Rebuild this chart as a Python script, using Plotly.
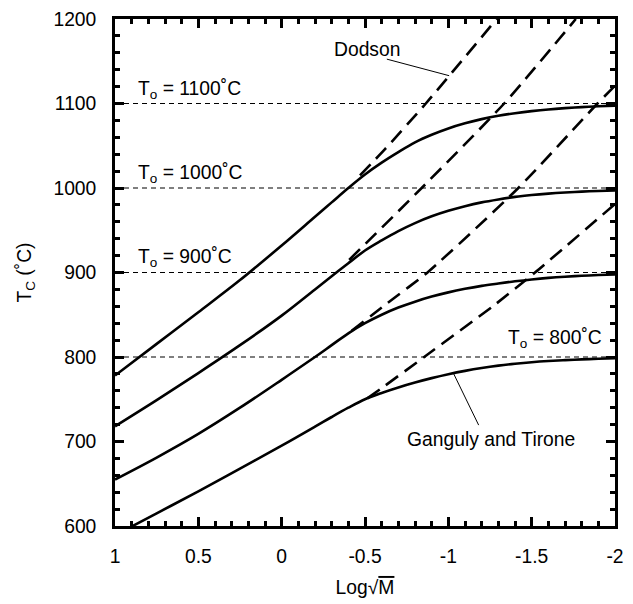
import plotly.graph_objects as go

# Initial temperatures (degC) for each cooling history
t0_levels = [1100, 1000, 900, 800]

# Ganguly and Tirone closure temperatures on a common Log sqrt(M) grid
gt_x = [1.0, 0.75, 0.5, 0.25, 0.0, -0.2, -0.3, -0.4, -0.5, -0.6, -0.7, -0.8,
        -0.9, -1.0, -1.1, -1.2, -1.3, -1.4, -1.5, -1.6, -1.7, -1.8, -1.9, -2.0]
gt_1100 = [778, 815.5, 853, 891, 932, 966, 983, 1000, 1016, 1030, 1042.5, 1054,
           1063, 1070.5, 1076.5, 1081.5, 1085.5, 1088.5, 1091, 1093, 1094.5, 1095.7, 1096.7, 1097.5]
gt_1000 = [718, 749, 781, 814, 849, 880, 895.5, 911, 926, 938, 949, 958.5,
           966.5, 973, 978.5, 983, 986.5, 989.5, 991.7, 993.4, 994.7, 995.7, 996.5, 997.2]
gt_900 = [655, 681, 709, 740, 773, 800, 814, 828, 840, 850, 858.5, 865.5,
          871.5, 876.5, 880.7, 884.2, 887, 889.6, 891.8, 893.6, 895, 896.1, 897, 897.7]
gt_800 = [589, 615, 641, 668, 695, 717.5, 729, 740, 750, 757.5, 764, 769.8,
          775, 779.6, 783.6, 787, 789.8, 792, 793.8, 795.2, 796.3, 797.2, 797.9, 798.5]

# Dodson closure temperatures (only where they depart from Ganguly and Tirone)
dod_1100_x = [-0.47, -0.62, -0.865, -1.29]
dod_1100_y = [1015, 1046, 1100, 1200]
dod_1000_x = [-0.405, -0.84, -1.335, -1.765]
dod_1000_y = [915, 1000, 1100, 1200]
dod_900_x = [-0.42, -0.63, -0.88, -1.42, -1.895, -2.0]
dod_900_y = [831, 863, 901, 1000, 1100, 1121]
dod_800_x = [-0.514, -0.592, -0.855, -1.28, -1.52, -2.0]
dod_800_y = [751, 762, 800, 862, 900, 981]

x_tickvals = [1, 0.5, 0, -0.5, -1, -1.5, -2]
x_ticktext = ["1", "0.5", "0", "-0.5", "-1", "-1.5", "-2"]
y_tickvals = [600, 700, 800, 900, 1000, 1100, 1200]

FONT = "Arial, Liberation Sans, sans-serif"
FS = 19.3

fig = go.Figure()

# horizontal reference lines at each initial temperature
for t0 in t0_levels:
    fig.add_trace(go.Scatter(
        x=[x_tickvals[0], x_tickvals[-1]], y=[t0, t0], mode="lines",
        line=dict(color="black", width=1.2, dash="5px,4px"),
        hoverinfo="skip", showlegend=False))

for ys in (gt_1100, gt_1000, gt_900, gt_800):
    fig.add_trace(go.Scatter(
        x=gt_x, y=ys, mode="lines",
        line=dict(color="black", width=2.6, shape="spline", smoothing=1.0),
        showlegend=False))

for xs, ys in ((dod_1100_x, dod_1100_y), (dod_1000_x, dod_1000_y),
               (dod_900_x, dod_900_y), (dod_800_x, dod_800_y)):
    fig.add_trace(go.Scatter(
        x=xs, y=ys, mode="lines",
        line=dict(color="black", width=2.6, dash="15px,8px", shape="spline", smoothing=0.6),
        showlegend=False))

# labels for the initial temperatures
label_pos = {1100: (0.876, 1116, "left"), 1000: (0.876, 1016.5, "left"),
             900: (0.876, 917, "left"), 800: (-1.936, 821, "right")}
for t0 in t0_levels:
    lx, ly, anc = label_pos[t0]
    fig.add_annotation(x=lx, y=ly, text=f"T<sub>o</sub> = {t0}˚C", showarrow=False,
                       xanchor=anc, yanchor="middle", font=dict(family=FONT, size=FS, color="black"))

fig.add_annotation(x=-0.51, y=1163.4, text="Dodson", showarrow=False,
                   xanchor="center", yanchor="middle", font=dict(family=FONT, size=FS, color="black"))
fig.add_annotation(x=-1.255, y=701.8, text="Ganguly and Tirone", showarrow=False,
                   xanchor="center", yanchor="middle", font=dict(family=FONT, size=FS, color="black"))

# leader lines from the labels to their curves
fig.add_shape(type="line", x0=-0.631, y0=1152.5, x1=-1.005, y1=1132.9,
              line=dict(color="black", width=1))
fig.add_shape(type="line", x0=-1.182, y0=719.4, x1=-1.03, y1=781.0,
              line=dict(color="black", width=1))

axis_common = dict(
    showgrid=False, zeroline=False, showline=True, linecolor="black", linewidth=2.6,
    mirror="ticks", ticks="inside", ticklen=9, tickwidth=2.5, tickcolor="black",
    tickfont=dict(family=FONT, size=FS, color="black"),
)

fig.update_xaxes(
    range=[1, -2], tickvals=x_tickvals, ticktext=x_ticktext,
    minor=dict(dtick=0.1, ticks="inside", ticklen=5, tickwidth=2.5, tickcolor="black", showgrid=False),
    title=dict(text="Log√<span style='text-decoration:overline'>M</span>",
               font=dict(family=FONT, size=FS, color="black"), standoff=15),
    ticklabelstandoff=11,
    **axis_common)
fig.update_yaxes(
    range=[600, 1200], tickvals=y_tickvals,
    minor=dict(dtick=20, ticks="inside", ticklen=5, tickwidth=2.5, tickcolor="black", showgrid=False),
    title=dict(text="T<sub>C</sub> (˚C)", font=dict(family=FONT, size=FS, color="black"), standoff=17),
    ticklabelstandoff=12,
    **axis_common)

fig.update_layout(
    width=633, height=604,
    margin=dict(l=115, r=9, t=15, b=77),
    plot_bgcolor="white", paper_bgcolor="white",
    showlegend=False,
)

fig.write_html("out.html")
